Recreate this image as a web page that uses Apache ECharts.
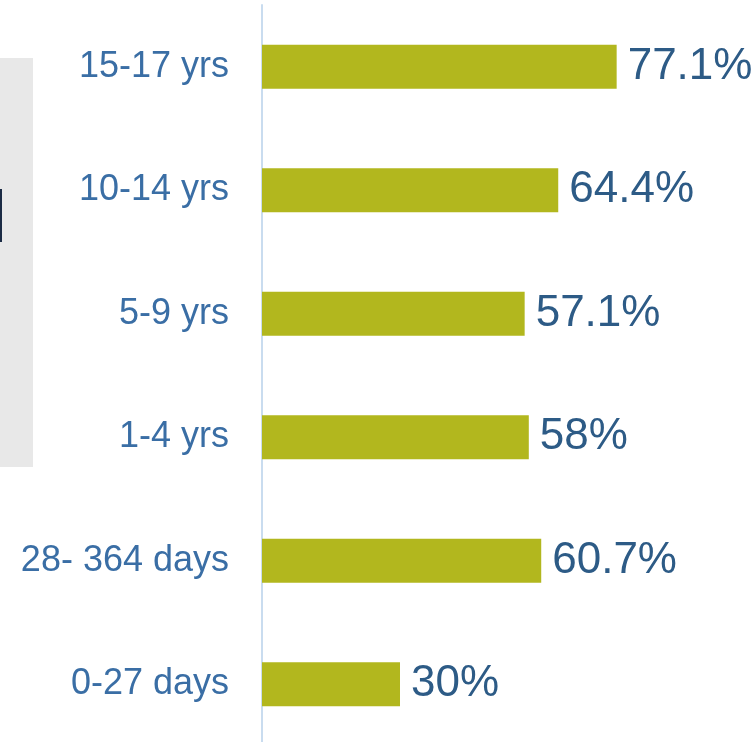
<!DOCTYPE html>
<html lang="en">
<head>
    <meta charset="UTF-8" />
    <title>Age groups</title>
    <style>
        html, body { margin: 0; padding: 0; background: #fff; }
        #chart { width: 754px; height: 742px; }
    </style>
</head>
<body>
    <div id="chart"></div>
    <script src="https://cdn.jsdelivr.net/npm/echarts@6/dist/echarts.min.js"></script>
    <script type="text/javascript">
        // bottom to top
        var categories = ['0-27 days', '28- 364 days', '1-4 yrs', '5-9 yrs', '10-14 yrs', '15-17 yrs'];
        var values = [30, 60.7, 58, 57.1, 64.4, 77.1];

        var chart = echarts.init(document.getElementById('chart'));
        var option = {
            backgroundColor: '#fff',
            animation: false,
            grid: { left: 262, top: 5, width: 460, height: 741, outerBoundsMode: 'none', containLabel: false },
            // cropped box at left edge
            graphic: [
                { type: 'rect', left: 0, top: 58, shape: { width: 33, height: 409 }, style: { fill: '#e8e8e8' } },
                { type: 'rect', left: 0, top: 189, shape: { width: 2, height: 53 }, style: { fill: '#1b2b45' } }
            ],
            xAxis: {
                type: 'value',
                min: 0,
                max: 100,
                show: false
            },
            yAxis: {
                type: 'category',
                data: categories,
                axisLine: { show: true, lineStyle: { color: '#c9dcef', width: 2 } },
                axisTick: { show: false },
                axisLabel: {
                    margin: 33,
                    fontFamily: 'Liberation Sans, Arial, sans-serif',
                    fontSize: 36,
                    color: '#3a6ea5'
                }
            },
            series: [{
                type: 'bar',
                data: values,
                barWidth: 44,
                itemStyle: { color: '#b2b71e' },
                label: {
                    show: true,
                    position: 'right',
                    distance: 11,
                    formatter: function (p) { return p.value + '%'; },
                    fontFamily: 'Liberation Sans, Arial, sans-serif',
                    fontSize: 44,
                    color: '#2d5b86'
                }
            }]
        };
        chart.setOption(option);
    </script>
</body>
</html>
